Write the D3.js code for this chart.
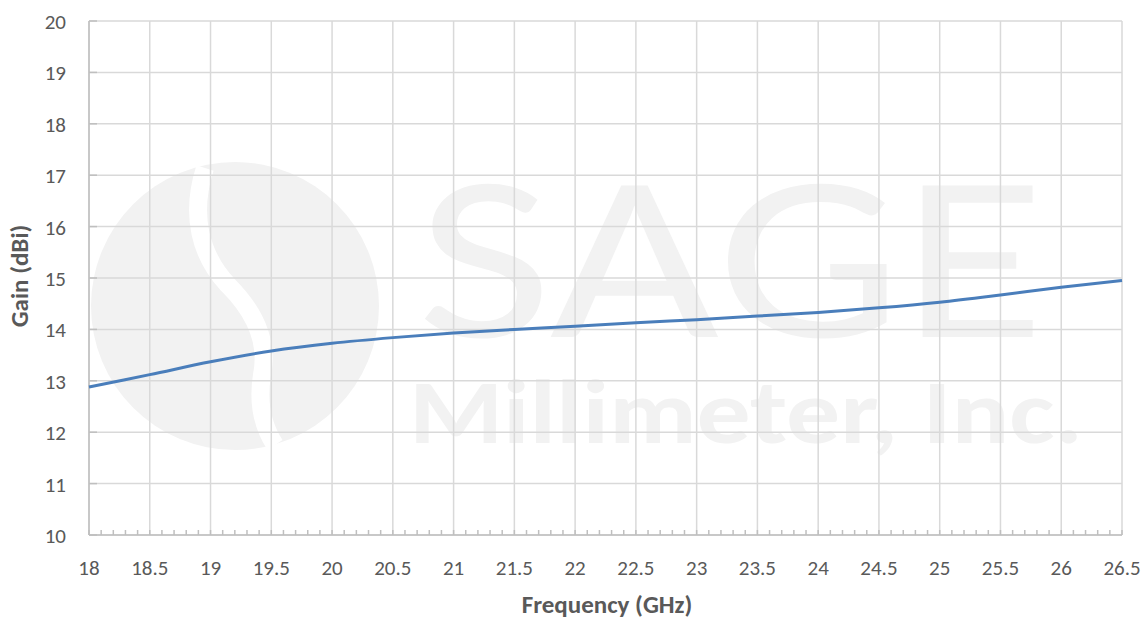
<!DOCTYPE html>
<html><head><meta charset="utf-8">
<script src="https://cdn.jsdelivr.net/npm/d3@7"></script>
<style>body{margin:0;background:#fff}svg{display:block}text{font-family:Carlito,Lato,"Open Sans",sans-serif}</style>
</head><body><svg id="c" width="1148" height="620"></svg>
<script>
const freq = [18,18.5,19,19.5,20,20.5,21,21.5,22,22.5,23,23.5,24,24.5,25,25.5,26,26.5];
const gain = [12.88,13.12,13.37,13.58,13.73,13.84,13.93,14.00,14.06,14.13,14.19,14.26,14.33,14.42,14.53,14.67,14.82,14.95];
const xTicks = [18,18.5,19,19.5,20,20.5,21,21.5,22,22.5,23,23.5,24,24.5,25,25.5,26,26.5];
const yTicks = [10,11,12,13,14,15,16,17,18,19,20];

const svg = d3.select("#c");
const L=89, R=1122, T=21, B=535;
const x = d3.scaleLinear().domain([18,26.5]).range([L,R]);
const y = d3.scaleLinear().domain([10,20]).range([B,T]);

// watermark
const wm = svg.append("g").attr("fill","#f2f2f2");
wm.append("circle").attr("cx",235).attr("cy",306).attr("r",144);
wm.append("path").attr("d","M205,168 C190,215 200,255 228,285 C258,315 268,345 262,375 C258,400 262,425 275,445")
  .attr("fill","none").attr("stroke","#fff").attr("stroke-width",18);
wm.append("text").attr("x",417).attr("y",337).attr("font-size",236).attr("font-family","Liberation Sans")
  .attr("textLength",628).attr("lengthAdjust","spacingAndGlyphs").text("SAGE");
wm.append("text").attr("x",409).attr("y",443).attr("font-size",92).attr("font-family","Liberation Sans").attr("font-weight","bold")
  .attr("textLength",674).attr("lengthAdjust","spacingAndGlyphs").text("Millimeter, Inc.");

// grid
const g = svg.append("g");
g.selectAll(".vg").data(xTicks).join("line").attr("x1",d=>x(d)).attr("x2",d=>x(d)).attr("y1",T).attr("y2",B)
  .attr("stroke","#d9d9d9").attr("stroke-width",1.5);
g.selectAll(".hg").data(yTicks).join("line").attr("x1",L).attr("x2",R).attr("y1",d=>y(d)).attr("y2",d=>y(d))
  .attr("stroke","#d9d9d9").attr("stroke-width",1.5);

// axes
const ax = svg.append("g").attr("stroke","#bfbfbf").attr("stroke-width",1.5);
ax.append("line").attr("x1",L).attr("x2",L).attr("y1",T).attr("y2",B);
ax.append("line").attr("x1",L).attr("x2",R).attr("y1",B).attr("y2",B);
const minor = d3.range(180,266,1).map(v=>v/10);
ax.selectAll(".mt").data(minor).join("line").attr("x1",d=>x(d)).attr("x2",d=>x(d)).attr("y1",B).attr("y2",B-5);
ax.selectAll(".yt").data(yTicks).join("line").attr("x1",L).attr("x2",L+8).attr("y1",d=>y(d)).attr("y2",d=>y(d));

// labels
svg.append("g").selectAll("text").data(yTicks).join("text").attr("x",66).attr("y",d=>y(d)+8)
  .attr("text-anchor","end").attr("font-size",21).attr("fill","#595959").text(d=>d);
svg.append("g").selectAll("text").data(xTicks).join("text").attr("x",d=>x(d)).attr("y",575)
  .attr("text-anchor","middle").attr("font-size",21).attr("fill","#595959").text(d=>d);
svg.append("text").attr("x",607).attr("y",613).attr("text-anchor","middle").attr("font-size",25)
  .attr("font-weight","bold").attr("fill","#595959").text("Frequency (GHz)");
svg.append("text").attr("transform","translate(28,276) rotate(-90)").attr("text-anchor","middle").attr("font-size",25)
  .attr("font-weight","bold").attr("fill","#595959").text("Gain (dBi)");

// line
svg.append("path").datum(freq.map((f,i)=>[f,gain[i]]))
  .attr("d",d3.line().x(d=>x(d[0])).y(d=>y(d[1])).curve(d3.curveCatmullRom))
  .attr("fill","none").attr("stroke","#4a7ebb").attr("stroke-width",3);
</script></body></html>
